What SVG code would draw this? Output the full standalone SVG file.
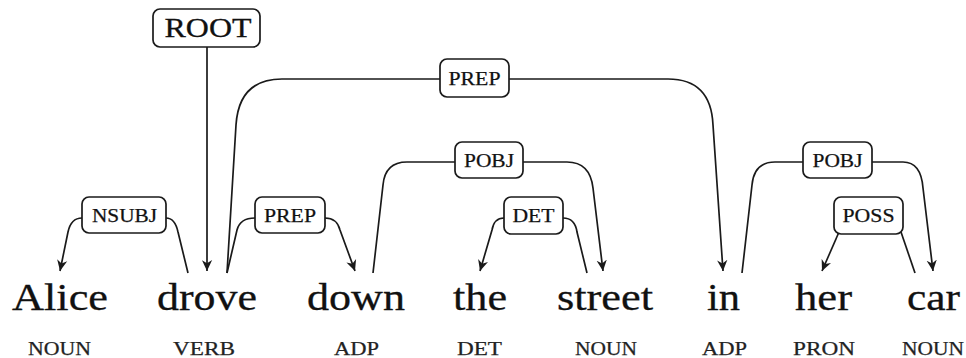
<svg xmlns="http://www.w3.org/2000/svg" width="966" height="358" viewBox="0 0 966 358">
<style>
  .word { font-family: "Liberation Serif", "Times New Roman", serif; font-size: 37px; fill: #111; stroke: #111; stroke-width: 0.3; }
  .pos { font-family: "Liberation Serif", "Times New Roman", serif; font-size: 18.5px; fill: #222; stroke: #222; stroke-width: 0.25; }
  .lbl { font-family: "Liberation Serif", "Times New Roman", serif; font-size: 18.5px; fill: #111; stroke: #111; stroke-width: 0.25; text-anchor: middle; }
  .root { font-family: "Liberation Serif", "Times New Roman", serif; font-size: 27px; fill: #111; stroke: #111; stroke-width: 0.3; text-anchor: middle; }
  .box { fill: #fff; stroke: #1a1a1a; stroke-width: 1.7; }
  .edge { fill: none; stroke: #1a1a1a; stroke-width: 1.7; }
  .arr { marker-end: url(#ah); }
</style>
<defs>
  <marker id="ah" viewBox="0 -5 11 10" refX="10" refY="0" markerWidth="12" markerHeight="11" markerUnits="userSpaceOnUse" orient="auto">
    <path d="M0,-4.7 L10,0 L0,4.7 L3,0 z" fill="#1a1a1a"/>
  </marker>
</defs>
<rect width="966" height="358" fill="#fff"/>
<g id="connectors">
  <path class="edge arr" d="M207,47 L207,271"/>
  <path class="edge arr" d="M82,218 Q71,218 68,232 L60,271"/>
  <path class="edge" d="M166,218 Q175,218 178,232 L188,273"/>
  <path class="edge" d="M255,218 Q240,218 237,230 L227,273"/>
  <path class="edge arr" d="M325,218 Q337,218 340,230 L355,271"/>
  <path class="edge" d="M227,273 L236,125 Q239,79 282,79 L440,79"/>
  <path class="edge arr" d="M509,79 L668,79 Q711,79 713,125 L723,271"/>
  <path class="edge" d="M373,273 L383,185 Q385,162 407,162 L455,162"/>
  <path class="edge arr" d="M523,162 L567,162 Q590,162 593,188 L603,271"/>
  <path class="edge arr" d="M504,218 Q494,218 492,230 L480,271"/>
  <path class="edge" d="M563,218 Q575,218 577,232 L587,273"/>
  <path class="edge" d="M742,273 L752,185 Q754,162 775,162 L803,162"/>
  <path class="edge arr" d="M872,162 L903,162 Q921,162 923,188 L933,271"/>
  <path class="edge arr" d="M839,232 L822,271"/>
  <path class="edge" d="M901,232 L915,273"/>
</g>
<g id="label-root">
  <rect class="box" x="153" y="9" width="107" height="38" rx="7"/>
  <text class="root" x="208" y="36.5" textLength="87" lengthAdjust="spacingAndGlyphs">ROOT</text>
</g>
<g id="label-nsubj">
  <rect class="box" x="82" y="197" width="84" height="36" rx="7"/>
  <text class="lbl" x="124.5" y="222" textLength="65" lengthAdjust="spacingAndGlyphs">NSUBJ</text>
</g>
<g id="label-prep-down">
  <rect class="box" x="255" y="197" width="70" height="36" rx="7"/>
  <text class="lbl" x="290" y="222" textLength="52" lengthAdjust="spacingAndGlyphs">PREP</text>
</g>
<g id="label-prep-in">
  <rect class="box" x="440" y="59" width="69" height="38" rx="7"/>
  <text class="lbl" x="474.5" y="85" textLength="52" lengthAdjust="spacingAndGlyphs">PREP</text>
</g>
<g id="label-pobj-street">
  <rect class="box" x="455" y="142" width="68" height="36" rx="7"/>
  <text class="lbl" x="489" y="167" textLength="50" lengthAdjust="spacingAndGlyphs">POBJ</text>
</g>
<g id="label-det">
  <rect class="box" x="504" y="197" width="59" height="37" rx="7"/>
  <text class="lbl" x="533.5" y="222" textLength="42" lengthAdjust="spacingAndGlyphs">DET</text>
</g>
<g id="label-pobj-car">
  <rect class="box" x="803" y="142" width="69" height="36" rx="7"/>
  <text class="lbl" x="837.5" y="167" textLength="50" lengthAdjust="spacingAndGlyphs">POBJ</text>
</g>
<g id="label-poss">
  <rect class="box" x="834" y="197" width="69" height="37" rx="7"/>
  <text class="lbl" x="868.5" y="222" textLength="52" lengthAdjust="spacingAndGlyphs">POSS</text>
</g>
<g id="tok-alice">
  <text class="word" x="12" y="310" textLength="96" lengthAdjust="spacingAndGlyphs">Alice</text>
  <text class="pos" x="28" y="355" textLength="63" lengthAdjust="spacingAndGlyphs">NOUN</text>
</g>
<g id="tok-drove">
  <text class="word" x="157" y="310" textLength="100" lengthAdjust="spacingAndGlyphs">drove</text>
  <text class="pos" x="173" y="355" textLength="62" lengthAdjust="spacingAndGlyphs">VERB</text>
</g>
<g id="tok-down">
  <text class="word" x="307" y="310" textLength="98" lengthAdjust="spacingAndGlyphs">down</text>
  <text class="pos" x="334" y="355" textLength="45" lengthAdjust="spacingAndGlyphs">ADP</text>
</g>
<g id="tok-the">
  <text class="word" x="453" y="310" textLength="54" lengthAdjust="spacingAndGlyphs">the</text>
  <text class="pos" x="457" y="355" textLength="45" lengthAdjust="spacingAndGlyphs">DET</text>
</g>
<g id="tok-street">
  <text class="word" x="557" y="310" textLength="96" lengthAdjust="spacingAndGlyphs">street</text>
  <text class="pos" x="575" y="355" textLength="62" lengthAdjust="spacingAndGlyphs">NOUN</text>
</g>
<g id="tok-in">
  <text class="word" x="707" y="310" textLength="33" lengthAdjust="spacingAndGlyphs">in</text>
  <text class="pos" x="702" y="355" textLength="45" lengthAdjust="spacingAndGlyphs">ADP</text>
</g>
<g id="tok-her">
  <text class="word" x="795" y="310" textLength="57" lengthAdjust="spacingAndGlyphs">her</text>
  <text class="pos" x="793" y="355" textLength="62" lengthAdjust="spacingAndGlyphs">PRON</text>
</g>
<g id="tok-car">
  <text class="word" x="907" y="310" textLength="53" lengthAdjust="spacingAndGlyphs">car</text>
  <text class="pos" x="902" y="355" textLength="62" lengthAdjust="spacingAndGlyphs">NOUN</text>
</g>
</svg>
